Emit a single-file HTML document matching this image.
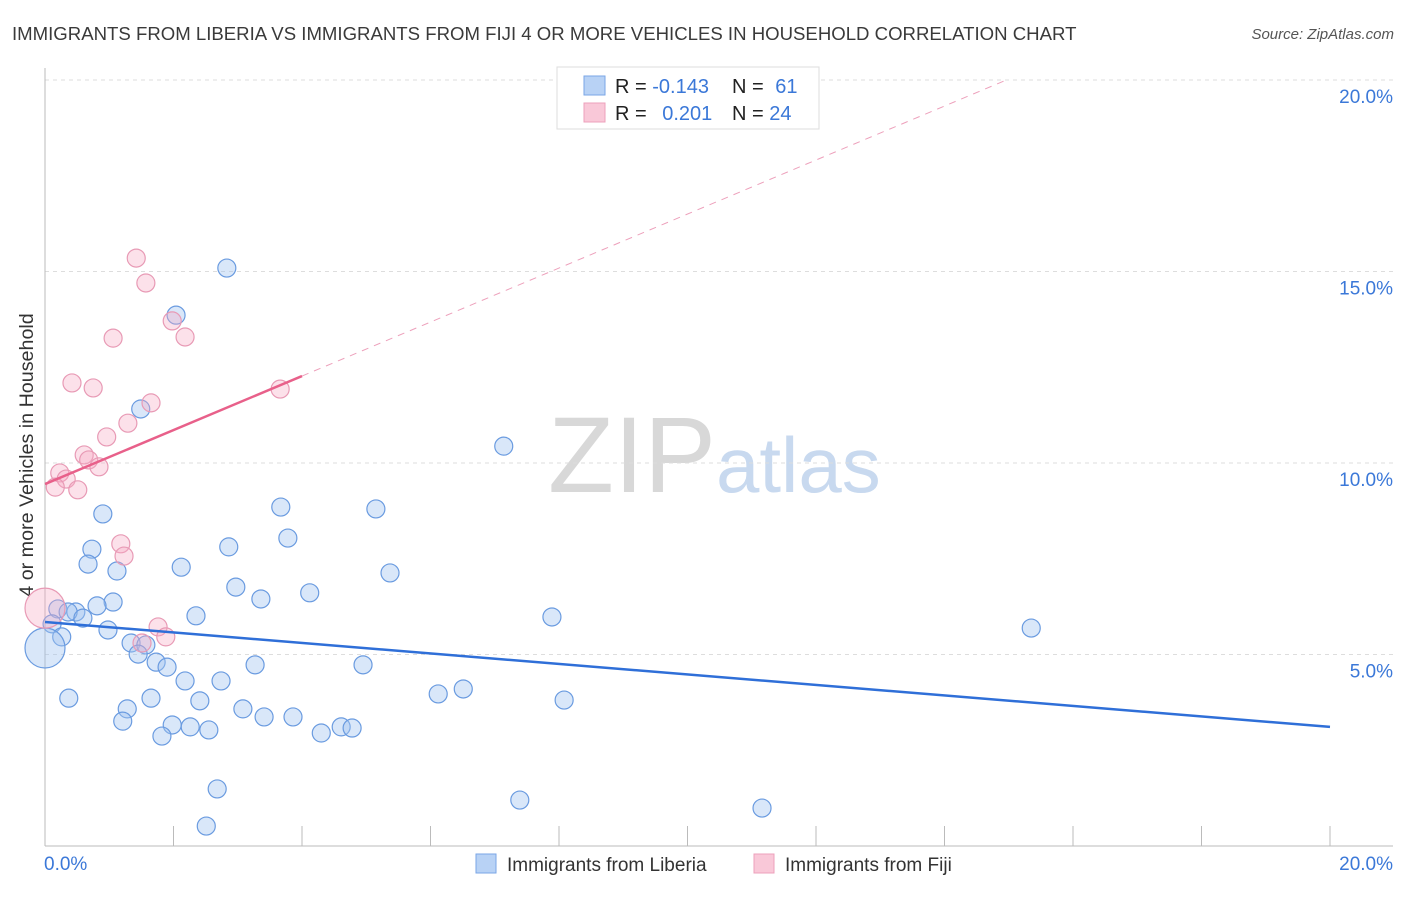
<!DOCTYPE html>
<html><head><meta charset="utf-8"><style>
body{margin:0;background:#fff;font-family:"Liberation Sans",sans-serif;}
svg text{font-family:"Liberation Sans",sans-serif;}
</style></head><body>
<svg id="chart" width="1406" height="892" xmlns="http://www.w3.org/2000/svg">
<text x="12" y="40" font-size="18.6" fill="#3a3a3a">IMMIGRANTS FROM LIBERIA VS IMMIGRANTS FROM FIJI 4 OR MORE VEHICLES IN HOUSEHOLD CORRELATION CHART</text>
<text x="1394" y="39" font-size="15" fill="#555" font-style="italic" text-anchor="end">Source: ZipAtlas.com</text>
<text transform="translate(33,455) rotate(-90)" font-size="19.7" fill="#333" text-anchor="middle">4 or more Vehicles in Household</text>
<text x="716" y="492" font-size="108" fill="#d8d8d8" text-anchor="end" font-family="Liberation Serif">ZIP</text>
<text x="716" y="492" font-size="78" fill="#c8d9ef">atlas</text>
<g id="grid"></g><g id="axes"></g><g id="marks"></g>
<g>
<rect x="557" y="67" width="262" height="62" fill="#fff" stroke="#ddd"/>
<rect x="584" y="76" width="21" height="19" fill="#b8d2f5" stroke="#7aa6e6"/>
<rect x="584" y="103" width="21" height="19" fill="#f9c8d8" stroke="#eda0bb"/>
<text x="615" y="93" font-size="20" fill="#222">R = <tspan fill="#3b78d8">-0.143</tspan></text>
<text x="732" y="93" font-size="20" fill="#222">N = <tspan fill="#3b78d8" dx="6">61</tspan></text>
<text x="615" y="120" font-size="20" fill="#222">R = <tspan fill="#3b78d8" dx="10">0.201</tspan></text>
<text x="732" y="120" font-size="20" fill="#222">N = <tspan fill="#3b78d8">24</tspan></text>
</g>
<g>
<rect x="476" y="854" width="20" height="19" fill="#b8d2f5" stroke="#7aa6e6"/>
<text x="507" y="871" font-size="19" fill="#333">Immigrants from Liberia</text>
<rect x="754" y="854" width="20" height="19" fill="#f9c8d8" stroke="#eda0bb"/>
<text x="785" y="871" font-size="19" fill="#333">Immigrants from Fiji</text>
</g>
</svg>
<script>
const yTicks=[5,10,15,20];
const xTickLabels=["0.0%","20.0%"];
const blueX=[2.83,2.04,1.49,7.14,0.90,3.67,5.15,0.73,3.78,2.86,0.67,1.12,2.12,5.37,2.97,4.12,3.36,7.89,15.35,1.06,0.81,0.20,0.48,0.36,0.59,2.35,0.11,0.26,0.98,1.34,1.57,1.45,1.73,1.90,0,2.18,2.74,4.95,3.27,2.41,0.37,1.65,6.12,6.51,8.08,1.28,3.08,1.21,3.41,3.86,1.98,2.26,2.55,4.30,4.61,4.78,1.82,2.68,7.39,11.16,2.51];
const blueY=[15.09,13.86,11.41,10.44,8.67,8.85,8.80,7.75,8.04,7.81,7.36,7.18,7.28,7.13,6.76,6.61,6.45,5.98,5.69,6.37,6.27,6.19,6.11,6.11,5.95,6.01,5.80,5.46,5.64,5.30,5.25,5.01,4.80,4.67,5.17,4.31,4.31,4.73,4.73,3.79,3.86,3.86,3.97,4.10,3.81,3.58,3.58,3.26,3.37,3.37,3.16,3.11,3.03,2.95,3.11,3.08,2.87,1.49,1.20,0.99,0.52];
const blueBig=[34];
const pinkX=[1.42,1.57,1.98,2.18,1.06,0.42,0.75,3.66,1.65,1.29,0.96,0.61,0.68,0.84,0.23,0.33,0.16,0.51,1.18,1.23,1.76,1.88,1.51,0];
const pinkY=[15.35,14.70,13.71,13.29,13.26,12.09,11.96,11.93,11.57,11.04,10.68,10.21,10.08,9.90,9.74,9.58,9.37,9.30,7.89,7.57,5.72,5.46,5.30,6.21];
const pinkBig=[23];
const blueTrend=[5.85,3.11];
const pinkTrend=[9.45,0.705];
const NS="http://www.w3.org/2000/svg";
const X0=45,X1=1330,Y0=846,PXY=38.3;
const sx=v=>X0+(X1-X0)*v/20, sy=v=>Y0-v*PXY;
function mk(t,a,p){const e=document.createElementNS(NS,t);for(const k in a)e.setAttribute(k,a[k]);document.getElementById(p).appendChild(e);return e;}
yTicks.forEach(t=>{
 const l=mk('line',{x1:45,x2:1393,y1:sy(t),y2:sy(t),stroke:'#ddd','stroke-dasharray':'4,4'},'grid');
 
 
 const tx=mk('text',{x:1393,y:sy(t)+23,'font-size':19,fill:'#3b78d8','text-anchor':'end'},'grid');
 tx.textContent=t.toFixed(1)+'%';
 
 
});
let a=mk('line',{x1:45,x2:45,y1:68,y2:846,stroke:'#bbb'},'axes');


a=mk('line',{x1:45,x2:1393,y1:846,y2:846,stroke:'#bbb'},'axes');


for(let i=0;i<=10;i++){const tk=mk('line',{x1:sx(i*2),x2:sx(i*2),y1:826,y2:846,stroke:'#bbb'},'axes');
 
 }
[[0,'start',44],[20,'end',1393]].forEach((d,i)=>{const t=mk('text',{x:d[2],y:870,'font-size':19,fill:'#3b78d8','text-anchor':d[1]},'axes');t.textContent=xTickLabels[i];
 
 });
function dots(X,Y,big,fill,stroke,name){X.forEach((x,i)=>{const c=mk('circle',{cx:sx(x),cy:sy(Y[i]),r:big.includes(i)?20:9,fill:fill,stroke:stroke,'stroke-width':1.2},'marks');
 
 });}
dots(blueX,blueY,blueBig,'rgba(160,195,240,0.4)','#6a9be0','liberia-point');
dots(pinkX,pinkY,pinkBig,'rgba(245,170,195,0.35)','#e89ab5','fiji-point');
let ln=mk('line',{x1:sx(0),y1:sy(blueTrend[0]),x2:sx(20),y2:sy(blueTrend[1]),stroke:'#2f6fd8','stroke-width':2.5},'marks');


const pEnd=(20-pinkTrend[0])/pinkTrend[1];
ln=mk('line',{x1:sx(4),y1:sy(pinkTrend[0]+4*pinkTrend[1]),x2:sx(pEnd),y2:sy(20),stroke:'#eda0bb','stroke-width':1,'stroke-dasharray':'7,6'},'marks');


ln=mk('line',{x1:sx(0),y1:sy(pinkTrend[0]),x2:sx(4),y2:sy(pinkTrend[0]+4*pinkTrend[1]),stroke:'#e8608a','stroke-width':2.5},'marks');


</script>
</body></html>
